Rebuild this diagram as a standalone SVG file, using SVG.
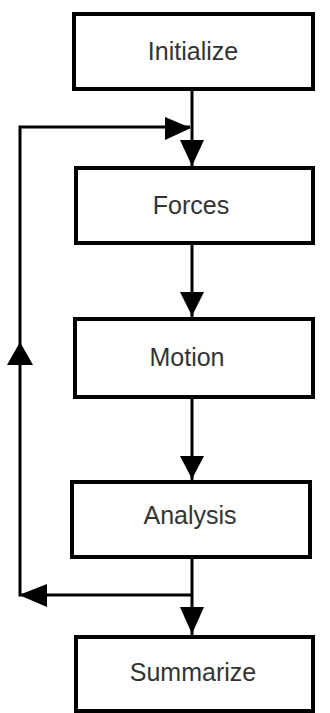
<svg xmlns="http://www.w3.org/2000/svg" width="330" height="713" viewBox="0 0 330 713">
<defs>
<style>
.box{fill:#fff;stroke:#000;stroke-width:4}
.lbl{font-family:"Liberation Sans",Arial,sans-serif;font-size:25px;fill:#333;text-anchor:middle;dominant-baseline:central}
.ln{fill:none;stroke:#000;stroke-width:3}
.ah{fill:#000}
</style>
</defs>
<rect width="330" height="713" fill="#fff"/>
<g id="connectors">
<line class="ln" x1="192" y1="89" x2="192" y2="168"/>
<polygon class="ah" points="180,140 204,140 192,166"/>
<line class="ln" x1="192" y1="243" x2="192" y2="319"/>
<polygon class="ah" points="180,292 204,292 192,316"/>
<line class="ln" x1="192" y1="397" x2="192" y2="482"/>
<polygon class="ah" points="180,456 204,456 192,479"/>
<line class="ln" x1="192" y1="557" x2="192" y2="637"/>
<polygon class="ah" points="180,607 204,607 192,634"/>
<polyline class="ln" points="192,595 20,595 20,127 190,127"/>
<polygon class="ah" points="165,117 165,140 191,128"/>
<polygon class="ah" points="7,365 33,365 20,342"/>
<polygon class="ah" points="47,584 47,607 19,595"/>
</g>
<g id="initialize">
<rect class="box" x="74" y="14" width="239" height="75"/>
<text class="lbl" x="193" y="51">Initialize</text>
</g>
<g id="forces">
<rect class="box" x="76" y="168" width="237" height="75"/>
<text class="lbl" x="191" y="205">Forces</text>
</g>
<g id="motion">
<rect class="box" x="75" y="319" width="238" height="78"/>
<text class="lbl" x="187" y="357">Motion</text>
</g>
<g id="analysis">
<rect class="box" x="72" y="482" width="238" height="75"/>
<text class="lbl" x="190" y="515">Analysis</text>
</g>
<g id="summarize">
<rect class="box" x="76" y="637" width="237" height="74"/>
<text class="lbl" x="193" y="672">Summarize</text>
</g>
</svg>
